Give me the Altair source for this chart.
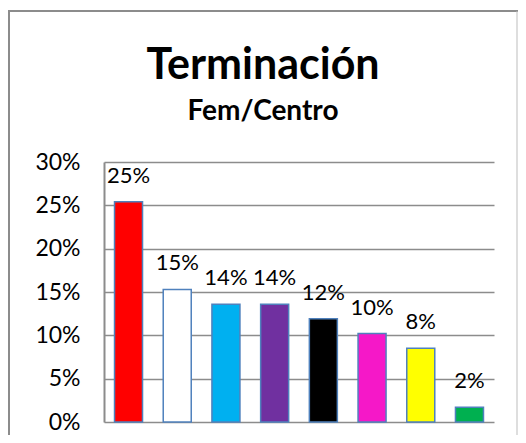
import altair as alt
import pandas as pd

categories = ["Cat 1", "Cat 2", "Cat 3", "Cat 4", "Cat 5", "Cat 6", "Cat 7", "Cat 8"]
values = [0.254, 0.153, 0.136, 0.136, 0.119, 0.102, 0.085, 0.017]
labels = ["25%", "15%", "14%", "14%", "12%", "10%", "8%", "2%"]
colors = ["#FF0000", "#FFFFFF", "#00B0F0", "#7030A0", "#000000", "#F518C8", "#FFFF00", "#00B050"]
y_ticks = [0, 0.05, 0.10, 0.15, 0.20, 0.25, 0.30]

df = pd.DataFrame({"cat": categories, "value": values, "label": labels, "color": colors})

FONT = "Lato"
GRAY = "#8C8C8C"

x = alt.X("cat:N", sort=categories,
          scale=alt.Scale(paddingInner=0.425, paddingOuter=0.216),
          axis=alt.Axis(labels=False, ticks=False, title=None, domain=False, grid=False))
y = alt.Y("value:Q", scale=alt.Scale(domain=[0, 0.3], nice=False),
          axis=alt.Axis(format=".0%", values=y_ticks, title=None, ticks=False,
                        labelPadding=24, domainColor=GRAY, domainWidth=2,
                        gridColor=GRAY, gridWidth=1.5, labelFontSize=23,
                        labelFont=FONT, labelColor="black"))

bars = alt.Chart(df).mark_bar(stroke="#4F81BD", strokeWidth=1.5).encode(
    x=x, y=y, color=alt.Color("color:N", scale=None, legend=None)
)
text = alt.Chart(df).mark_text(baseline="alphabetic", dy=-19, fontSize=22, font=FONT, color="black").encode(
    x=x, y=y, text="label:N"
)
frame = alt.Data(values=[{}])
border_left = alt.Chart(frame).mark_rule(stroke=GRAY, strokeWidth=2).encode(
    x=alt.value(-95), y=alt.value(-152), y2=alt.value(291)
)
border_top = alt.Chart(frame).mark_rule(stroke=GRAY, strokeWidth=2).encode(
    x=alt.value(-96), x2=alt.value(414), y=alt.value(-151)
)
border_right = alt.Chart(frame).mark_rule(stroke="#BDBDBD", strokeWidth=1).encode(
    x=alt.value(413), y=alt.value(-151), y2=alt.value(291)
)

chart = alt.layer(border_left, border_top, border_right, bars, text).properties(
    width=390, height=260,
    title=alt.TitleParams(text="Terminación", subtitle="Fem/Centro", anchor="middle",
                          frame="group", dx=-36, font=FONT, fontSize=43, fontWeight="bold",
                          subtitleFont=FONT, subtitleFontSize=28, subtitleFontWeight="bold",
                          subtitleColor="black", color="black", subtitlePadding=10, offset=-117),
    autosize=alt.AutoSizeParams(type="none"),
    padding={"left": 96, "top": 154, "right": 24, "bottom": 13},
).configure_view(stroke=None)

chart.save("out.html", embed_options={"renderer": "svg", "actions": False})
